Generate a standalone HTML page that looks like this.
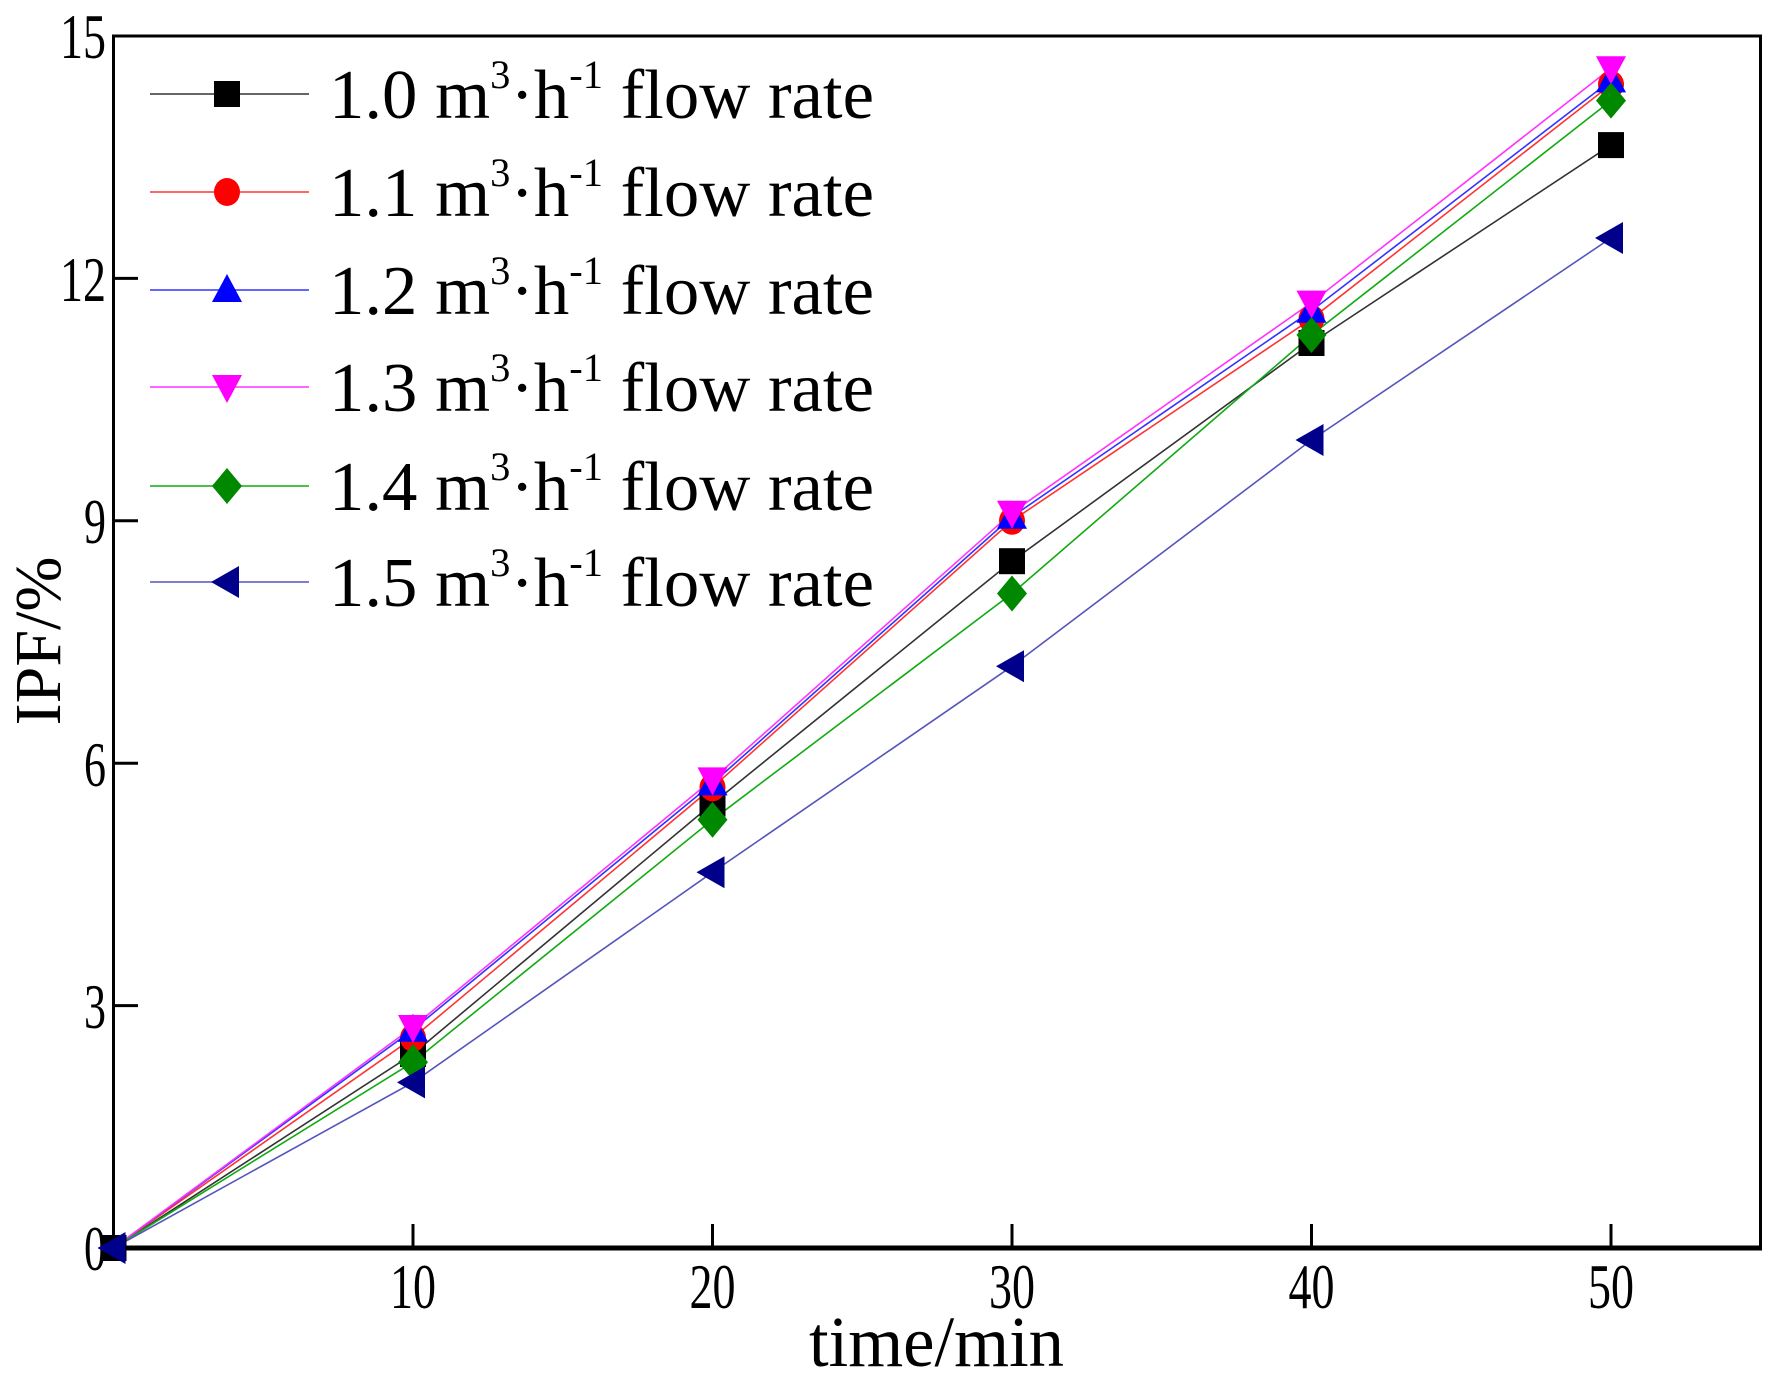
<!DOCTYPE html>
<html><head><meta charset="utf-8"><style>
html,body{margin:0;padding:0;background:#fff}
svg{display:block}
text{font-family:"Liberation Serif",serif;fill:#000}
</style></head><body>
<svg width="1770" height="1376" viewBox="0 0 1770 1376" xmlns="http://www.w3.org/2000/svg">
<defs>
<rect id="sq" x="-13" y="-13" width="26" height="26" fill="#000"/>
<ellipse id="ci" cx="0" cy="0" rx="13" ry="14" fill="#f00"/>
<polygon id="tu" points="0,-16 15,12 -15,12" fill="#00f"/>
<polygon id="td" points="0,16 15,-12 -15,-12" fill="#f0f"/>
<polygon id="di" points="0,-18 15,0 0,18 -15,0" fill="#080"/>
<polygon id="tl" points="-16,0 12,-16 12,16" fill="#00008b"/>
</defs>
<rect x="113.5" y="36" width="1647" height="1212" fill="none" stroke="#000" stroke-width="3"/>
<line x1="112" y1="1248" x2="1762" y2="1248" stroke="#000" stroke-width="5"/>
<g stroke="#000" stroke-width="3">
<line x1="413" y1="1248" x2="413" y2="1224"/><line x1="712.5" y1="1248" x2="712.5" y2="1224"/>
<line x1="1012" y1="1248" x2="1012" y2="1224"/><line x1="1311.5" y1="1248" x2="1311.5" y2="1224"/>
<line x1="1611" y1="1248" x2="1611" y2="1224"/>
<line x1="113.5" y1="1005.6" x2="138" y2="1005.6"/><line x1="113.5" y1="763.2" x2="138" y2="763.2"/>
<line x1="113.5" y1="520.8" x2="138" y2="520.8"/><line x1="113.5" y1="278.4" x2="138" y2="278.4"/>
</g>
<g font-size="64">
<text x="84" y="1270" textLength="22" lengthAdjust="spacingAndGlyphs">0</text>
<text x="84" y="1028" textLength="22" lengthAdjust="spacingAndGlyphs">3</text>
<text x="84" y="786" textLength="22" lengthAdjust="spacingAndGlyphs">6</text>
<text x="84" y="543" textLength="22" lengthAdjust="spacingAndGlyphs">9</text>
<text x="60" y="301" textLength="46" lengthAdjust="spacingAndGlyphs">12</text>
<text x="60" y="58" textLength="46" lengthAdjust="spacingAndGlyphs">15</text>
</g>
<g font-size="64">
<text x="390" y="1308" textLength="46" lengthAdjust="spacingAndGlyphs">10</text>
<text x="689.5" y="1308" textLength="46" lengthAdjust="spacingAndGlyphs">20</text>
<text x="989" y="1308" textLength="46" lengthAdjust="spacingAndGlyphs">30</text>
<text x="1288.5" y="1308" textLength="46" lengthAdjust="spacingAndGlyphs">40</text>
<text x="1588" y="1308" textLength="46" lengthAdjust="spacingAndGlyphs">50</text>
</g>
<text x="809" y="1366" font-size="72" textLength="255" lengthAdjust="spacingAndGlyphs">time/min</text>
<text transform="translate(60,641) rotate(-90)" font-size="66" text-anchor="middle">IPF/%</text>
<g fill="none" stroke-width="1.6">
<polyline stroke="#333" points="113.5,1248 413,1054 712.5,803.6 1012,561.2 1311.5,343 1611,145.1"/>
<polyline stroke="#f33" points="113.5,1248 413,1037.9 712.5,787.4 1012,520.8 1311.5,318.8 1611,84.5"/>
<polyline stroke="#33f" points="113.5,1248 413,1029.8 712.5,783.4 1012,516.8 1311.5,310.7 1611,80.4"/>
<polyline stroke="#f3f" points="113.5,1248 413,1027 712.5,779.4 1012,512.7 1311.5,302.6 1611,68.3"/>
<polyline stroke="#1a1" points="113.5,1248 413,1062.2 712.5,819.8 1012,593.5 1311.5,335 1611,100.6"/>
<polyline stroke="#55b" points="113.5,1248 413,1082.4 712.5,872.3 1012,666.2 1311.5,440 1611,238"/>
</g>
<g>
<use href="#sq" x="113.5" y="1248"/><use href="#sq" x="413" y="1054"/><use href="#sq" x="712.5" y="803.6"/><use href="#sq" x="1012" y="561.2"/><use href="#sq" x="1311.5" y="343"/><use href="#sq" x="1611" y="145.1"/>
<use href="#ci" x="413" y="1037.9"/><use href="#ci" x="712.5" y="787.4"/><use href="#ci" x="1012" y="520.8"/><use href="#ci" x="1311.5" y="318.8"/><use href="#ci" x="1611" y="84.5"/>
<use href="#tu" x="413" y="1029.8"/><use href="#tu" x="712.5" y="783.4"/><use href="#tu" x="1012" y="516.8"/><use href="#tu" x="1311.5" y="310.7"/><use href="#tu" x="1611" y="80.4"/>
<use href="#td" x="413" y="1027"/><use href="#td" x="712.5" y="779.4"/><use href="#td" x="1012" y="512.7"/><use href="#td" x="1311.5" y="302.6"/><use href="#td" x="1611" y="68.3"/>
<use href="#di" x="413" y="1062.2"/><use href="#di" x="712.5" y="819.8"/><use href="#di" x="1012" y="593.5"/><use href="#di" x="1311.5" y="335"/><use href="#di" x="1611" y="100.6"/>
<use href="#tl" x="113.5" y="1248"/><use href="#tl" x="413" y="1082.4"/><use href="#tl" x="712.5" y="872.3"/><use href="#tl" x="1012" y="666.2"/><use href="#tl" x="1311.5" y="440"/><use href="#tl" x="1611" y="238"/>
</g>
<g stroke-width="1.6">
<line x1="150" y1="94" x2="309" y2="94" stroke="#333"/>
<line x1="150" y1="192" x2="309" y2="192" stroke="#f33"/>
<line x1="150" y1="290" x2="309" y2="290" stroke="#33f"/>
<line x1="150" y1="387" x2="309" y2="387" stroke="#f3f"/>
<line x1="150" y1="486" x2="309" y2="486" stroke="#1a1"/>
<line x1="150" y1="582" x2="309" y2="582" stroke="#55b"/>
</g>
<use href="#sq" x="227" y="94"/><use href="#ci" x="227" y="192"/><use href="#tu" x="227" y="290"/>
<use href="#td" x="227" y="387"/><use href="#di" x="227" y="486"/><use href="#tl" x="227" y="582"/>
<g font-size="70">
<text x="329" y="118" textLength="545" lengthAdjust="spacingAndGlyphs">1.0 m<tspan font-size="40" dy="-30">3</tspan><tspan dy="30">·h</tspan><tspan font-size="40" dy="-30">-1</tspan><tspan dy="30"> flow rate</tspan></text>
<text x="329" y="216" textLength="545" lengthAdjust="spacingAndGlyphs">1.1 m<tspan font-size="40" dy="-30">3</tspan><tspan dy="30">·h</tspan><tspan font-size="40" dy="-30">-1</tspan><tspan dy="30"> flow rate</tspan></text>
<text x="329" y="314" textLength="545" lengthAdjust="spacingAndGlyphs">1.2 m<tspan font-size="40" dy="-30">3</tspan><tspan dy="30">·h</tspan><tspan font-size="40" dy="-30">-1</tspan><tspan dy="30"> flow rate</tspan></text>
<text x="329" y="411" textLength="545" lengthAdjust="spacingAndGlyphs">1.3 m<tspan font-size="40" dy="-30">3</tspan><tspan dy="30">·h</tspan><tspan font-size="40" dy="-30">-1</tspan><tspan dy="30"> flow rate</tspan></text>
<text x="329" y="510" textLength="545" lengthAdjust="spacingAndGlyphs">1.4 m<tspan font-size="40" dy="-30">3</tspan><tspan dy="30">·h</tspan><tspan font-size="40" dy="-30">-1</tspan><tspan dy="30"> flow rate</tspan></text>
<text x="329" y="606" textLength="545" lengthAdjust="spacingAndGlyphs">1.5 m<tspan font-size="40" dy="-30">3</tspan><tspan dy="30">·h</tspan><tspan font-size="40" dy="-30">-1</tspan><tspan dy="30"> flow rate</tspan></text>
</g>
</svg>
</body></html>
